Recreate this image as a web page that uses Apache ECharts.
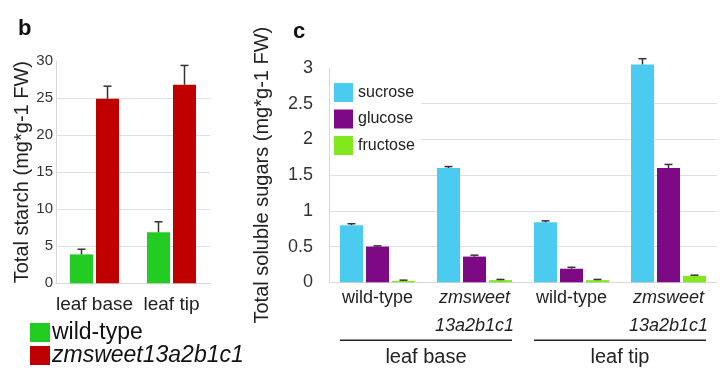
<!DOCTYPE html>
<html>
<head>
<meta charset="utf-8">
<script src="https://cdn.jsdelivr.net/npm/echarts@6/dist/echarts.min.js"></script>
<style>
html,body{margin:0;padding:0;background:#fff;}
#chart{width:720px;height:373px;}
</style>
</head>
<body>
<div id="chart"></div>
<script>
// ---- Panel b data ----
const starchCategories = ['leaf base', 'leaf tip'];
const starchSeriesNames = ['wild-type', 'zmsweet13a2b1c1'];
const starchWildType = [3.9, 6.9];
const starchWildTypeErr = [0.7, 1.4];
const starchMutant = [24.9, 26.8];
const starchMutantErr = [1.7, 2.6];
const starchTicks = [0, 5, 10, 15, 20, 25, 30];

// ---- Panel c data ----
const sugarCategories = ['wild-type', 'zmsweet\n13a2b1c1', 'wild-type', 'zmsweet\n13a2b1c1'];
const sugarSeriesNames = ['sucrose', 'glucose', 'fructose'];
const sucrose = [0.80, 1.60, 0.84, 3.05];
const sucroseErr = [0.02, 0.02, 0.02, 0.08];
const glucose = [0.50, 0.36, 0.19, 1.60];
const glucoseErr = [0.01, 0.02, 0.02, 0.05];
const fructose = [0.02, 0.03, 0.03, 0.09];
const fructoseErr = [0.01, 0.01, 0.01, 0.01];
const sugarTicks = [0, 0.5, 1, 1.5, 2, 2.5, 3];
const tissueGroups = ['leaf base', 'leaf tip'];
const tissueGroupCats = [[0, 1], [2, 3]];

// ---- styles ----
const FONT = "'Liberation Sans', Arial, sans-serif";
const BAR_W = 23, BAR_GAP = 3;
const C_GREEN = '#22cc22', C_RED = '#c00000';
const C_SUC = '#4ccbf0', C_GLU = '#7d0a84', C_FRU = '#80e81c';
const ERR_COLOR = '#333';

function errData(valueArrays, errArrays) {
  const out = [];
  valueArrays.forEach((vals, s) => {
    vals.forEach((v, i) => out.push([i, v, errArrays[s][i], s]));
  });
  return out;
}
function errRenderer(nSeries) {
  return function (params, api) {
    const i = api.value(0), v = api.value(1), e = api.value(2), s = api.value(3);
    const offset = (s - (nSeries - 1) / 2) * (BAR_W + BAR_GAP);
    const base = api.coord([i, v]);
    const top = api.coord([i, v + e]);
    const x = base[0] + offset;
    const st = { stroke: ERR_COLOR, lineWidth: 1.5 };
    return {
      type: 'group',
      children: [
        { type: 'line', shape: { x1: x, y1: base[1], x2: x, y2: top[1] }, style: st },
        { type: 'line', shape: { x1: x - 4, y1: top[1], x2: x + 4, y2: top[1] }, style: st }
      ]
    };
  };
}

const splitLine = { show: true, showMaxLine: false, lineStyle: { color: '#e0e0e0', width: 1 } };
const axisLineLight = { show: true, lineStyle: { color: '#d8d8d8', width: 1 } };

const option = {
  animation: false,
  backgroundColor: '#fff',
  textStyle: { fontFamily: FONT },
  title: [
    { text: 'b', left: 18, top: 18, padding: 0, textStyle: { fontSize: 22, fontWeight: 'bold', color: '#111', fontFamily: FONT } },
    { text: 'c', left: 293, top: 21, padding: 0, textStyle: { fontSize: 22, fontWeight: 'bold', color: '#111', fontFamily: FONT } }
  ],
  legend: [
    {
      orient: 'vertical', left: 30, top: 321, padding: 0, itemGap: 0,
      itemWidth: 20, itemHeight: 19, icon: 'rect',
      textStyle: { fontSize: 23, color: '#111', fontFamily: FONT, padding: [0, 0, 0, -3] },
      data: [
        { name: starchSeriesNames[0] },
        { name: starchSeriesNames[1], textStyle: { fontStyle: 'italic' } }
      ],
      selectedMode: false
    },
    {
      orient: 'vertical', left: 331, top: 77, padding: [6, 6, 6, 3], itemGap: 7.5,
      itemWidth: 19, itemHeight: 19, icon: 'rect', backgroundColor: '#fff',
      textStyle: { fontSize: 16, color: '#222', fontFamily: FONT },
      data: sugarSeriesNames, selectedMode: false
    }
  ],
  grid: [
    { left: 56, width: 154, top: 61, height: 222.3, containLabel: false },
    { left: 329, width: 388, top: 68, height: 214.3, containLabel: false }
  ],
  xAxis: [
    {
      gridIndex: 0, type: 'category', data: starchCategories,
      axisLine: axisLineLight, axisTick: { show: false },
      axisLabel: { interval: 0, fontSize: 19, color: '#222', margin: 12, fontFamily: FONT }
    },
    {
      gridIndex: 1, type: 'category', data: sugarCategories,
      axisLine: axisLineLight, axisTick: { show: false },
      axisLabel: {
        interval: 0, margin: 2, color: '#222',
        formatter: function (v) {
          if (v.indexOf('\n') >= 0) return v.split('\n').map(s => '{i|' + s + '}').join('\n');
          return '{n|' + v + '}';
        },
        rich: {
          n: { fontSize: 18, lineHeight: 28, color: '#222', fontFamily: FONT },
          i: { fontSize: 18, lineHeight: 28, color: '#222', fontStyle: 'italic', fontFamily: FONT }
        }
      }
    }
  ],
  yAxis: [
    {
      gridIndex: 0, type: 'value', min: starchTicks[0], max: starchTicks[starchTicks.length - 1],
      interval: starchTicks[1] - starchTicks[0],
      axisLine: axisLineLight, axisTick: { show: false }, splitLine: splitLine,
      axisLabel: { fontSize: 15, color: '#333', margin: 3, fontFamily: FONT },
      name: 'Total starch (mg*g-1 FW)', nameLocation: 'middle', nameRotate: 90, nameGap: 24,
      nameTextStyle: { fontSize: 20, color: '#222', fontFamily: FONT }
    },
    {
      gridIndex: 1, type: 'value', min: sugarTicks[0], max: sugarTicks[sugarTicks.length - 1],
      interval: sugarTicks[1] - sugarTicks[0],
      axisLine: axisLineLight, axisTick: { show: false }, splitLine: splitLine,
      axisLabel: { fontSize: 18, color: '#333', margin: 16, fontFamily: FONT },
      name: 'Total soluble sugars (mg*g-1 FW)', nameLocation: 'middle', nameRotate: 90, nameGap: 57,
      nameTextStyle: { fontSize: 20, color: '#222', fontFamily: FONT }
    }
  ],
  series: [
    { name: starchSeriesNames[0], type: 'bar', xAxisIndex: 0, yAxisIndex: 0, data: starchWildType,
      barWidth: BAR_W, barGap: (BAR_GAP / BAR_W * 100) + '%', itemStyle: { color: C_GREEN }, clip: false },
    { name: starchSeriesNames[1], type: 'bar', xAxisIndex: 0, yAxisIndex: 0, data: starchMutant,
      barWidth: BAR_W, barGap: (BAR_GAP / BAR_W * 100) + '%', itemStyle: { color: C_RED }, clip: false },
    { type: 'custom', xAxisIndex: 0, yAxisIndex: 0, clip: false, z: 5,
      data: errData([starchWildType, starchMutant], [starchWildTypeErr, starchMutantErr]),
      renderItem: errRenderer(2) },

    { name: sugarSeriesNames[0], type: 'bar', xAxisIndex: 1, yAxisIndex: 1, data: sucrose,
      barWidth: BAR_W, barGap: (BAR_GAP / BAR_W * 100) + '%', itemStyle: { color: C_SUC }, clip: false },
    { name: sugarSeriesNames[1], type: 'bar', xAxisIndex: 1, yAxisIndex: 1, data: glucose,
      barWidth: BAR_W, barGap: (BAR_GAP / BAR_W * 100) + '%', itemStyle: { color: C_GLU }, clip: false },
    { name: sugarSeriesNames[2], type: 'bar', xAxisIndex: 1, yAxisIndex: 1, data: fructose,
      barWidth: BAR_W, barGap: (BAR_GAP / BAR_W * 100) + '%', itemStyle: { color: C_FRU }, clip: false },
    { type: 'custom', xAxisIndex: 1, yAxisIndex: 1, clip: false, z: 5,
      data: errData([sucrose, glucose, fructose], [sucroseErr, glucoseErr, fructoseErr]),
      renderItem: errRenderer(3) },

    { type: 'custom', xAxisIndex: 1, yAxisIndex: 1, clip: false, silent: true,
      data: tissueGroupCats,
      encode: { x: [0, 1] },
      renderItem: function (params, api) {
        const half = (3 * BAR_W + 2 * BAR_GAP) / 2;
        const p0 = api.coord([api.value(0), 0]);
        const p1 = api.coord([api.value(1), 0]);
        const y = p0[1] + 58;
        return {
          type: 'group',
          children: [
            { type: 'line', shape: { x1: p0[0] - half, y1: y, x2: p1[0] + half, y2: y },
              style: { stroke: '#222', lineWidth: 1.6 } },
            { type: 'text', style: { text: tissueGroups[params.dataIndex], x: (p0[0] + p1[0]) / 2, y: y + 17,
              align: 'center', verticalAlign: 'middle', fontSize: 20, fontFamily: FONT, fill: '#222' } }
          ]
        };
      }
    }
  ]
};

const chart = echarts.init(document.getElementById('chart'), null, { renderer: 'canvas' });
chart.setOption(option);
</script>
</body>
</html>
